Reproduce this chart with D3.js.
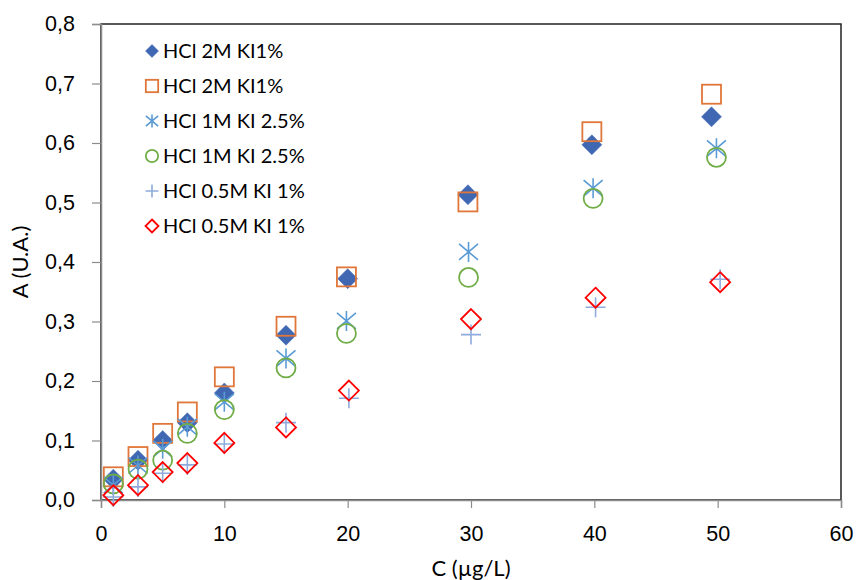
<!DOCTYPE html>
<html>
<head>
<meta charset="utf-8">
<script src="https://cdn.jsdelivr.net/npm/d3@7"></script>
<style>
  body { margin: 0; background: #fff; }
  svg { font-family: Lato, "Liberation Sans", sans-serif; }
</style>
</head>
<body>
<div id="chart"></div>
<script>
// Absorbance vs concentration, six acid / KI conditions
const seriesNames = ["HCl 2M KI1%", "HCl 2M KI1%", "HCl 1M KI 2.5%", "HCl 1M KI 2.5%", "HCl 0.5M KI 1%", "HCl 0.5M KI 1%"];
const xDiamond = [1, 3, 5, 7, 10, 15, 20, 29.75, 39.8, 49.5];
const yDiamond = [0.035, 0.067, 0.100, 0.130, 0.180, 0.277, 0.372, 0.513, 0.597, 0.644];
const xSquare = [1, 3, 5, 7, 10, 15, 19.9, 29.75, 39.8, 49.5];
const ySquare = [0.039, 0.073, 0.112, 0.148, 0.207, 0.292, 0.375, 0.501, 0.619, 0.682];
const xStar = [1, 3, 5, 7, 10, 15, 19.9, 29.8, 39.9, 49.9];
const yStar = [0.025, 0.058, 0.086, 0.123, 0.165, 0.238, 0.301, 0.417, 0.524, 0.591];
const xCircle = [1, 3, 5, 7, 10, 15, 19.9, 29.8, 39.9, 49.9];
const yCircle = [0.027, 0.052, 0.067, 0.112, 0.152, 0.222, 0.280, 0.374, 0.507, 0.576];
const xPlus = [1, 3, 5, 7, 10, 15, 20.1, 30, 40.1, 50.2];
const yPlus = [0.005, 0.022, 0.045, 0.059, 0.094, 0.130, 0.171, 0.278, 0.324, 0.371];
const xRed = [1, 3, 5, 7, 10, 15, 20.1, 30, 40.1, 50.2];
const yRed = [0.008, 0.025, 0.047, 0.062, 0.096, 0.122, 0.184, 0.304, 0.340, 0.366];
const xTicks = [0, 10, 20, 30, 40, 50, 60];
const yTicks = [0, 0.1, 0.2, 0.3, 0.4, 0.5, 0.6, 0.7, 0.8];

const width = 857, height = 580;
const margin = { top: 24, right: 16, bottom: 80, left: 101 };

const series = [
  { name: seriesNames[0], xs: xDiamond, ys: yDiamond, type: "diamondFill", color: "#4068b2" },
  { name: seriesNames[1], xs: xSquare, ys: ySquare, type: "square", color: "#e0773a" },
  { name: seriesNames[2], xs: xStar, ys: yStar, type: "star", color: "#5b9bd5" },
  { name: seriesNames[3], xs: xCircle, ys: yCircle, type: "circle", color: "#70ad47" },
  { name: seriesNames[4], xs: xPlus, ys: yPlus, type: "plus", color: "#8faadc" },
  { name: seriesNames[5], xs: xRed, ys: yRed, type: "diamond", color: "#ff0000" }
];

const svg = d3.select("#chart").append("svg")
  .attr("width", width)
  .attr("height", height);

const innerW = width - margin.left - margin.right;
const innerH = height - margin.top - margin.bottom;

const x = d3.scaleLinear().domain([0, 60]).range([0, innerW]);
const y = d3.scaleLinear().domain([0, 0.8]).range([innerH, 0]);

const g = svg.append("g").attr("transform", `translate(${margin.left},${margin.top})`);

// plot frame
g.append("rect")
  .attr("width", innerW).attr("height", innerH)
  .attr("fill", "none").attr("stroke", "#222").attr("stroke-width", 1.5);

const xAxis = g.append("g")
  .attr("transform", `translate(0,${innerH})`)
  .call(d3.axisBottom(x).tickValues(xTicks).tickSize(8).tickPadding(18).tickFormat(d3.format("d")));
const yAxis = g.append("g")
  .call(d3.axisLeft(y).tickValues(yTicks).tickSize(9).tickPadding(17)
    .tickFormat(d => d3.format(".1f")(d).replace(".", ",")));

[xAxis, yAxis].forEach(a => {
  a.select(".domain").attr("stroke", "#8c8c8c").attr("stroke-width", 1.5);
  a.selectAll(".tick line").attr("stroke", "#8c8c8c").attr("stroke-width", 1.2);
  a.selectAll(".tick text").attr("fill", "#000").style("font-size", "21.5px");
});

svg.append("text")
  .attr("x", margin.left + innerW / 2).attr("y", 576)
  .attr("text-anchor", "middle").style("font-size", "22px")
  .text("C (µg/L)");

svg.append("text")
  .attr("transform", `translate(28,${margin.top + innerH / 2}) rotate(-90)`)
  .attr("text-anchor", "middle").style("font-size", "22px")
  .text("A (U.A.)");

function drawMarker(sel, type, color, s) {
  const h = s / 2;
  if (type === "diamondFill" || type === "diamond") {
    sel.append("path")
      .attr("d", `M0,${-h}L${h},0L0,${h}L${-h},0Z`)
      .attr("fill", type === "diamondFill" ? color : "none")
      .attr("stroke", color).attr("stroke-width", type === "diamondFill" ? 0.5 : 1.8);
  } else if (type === "square") {
    const q = h * 0.95;
    sel.append("rect").attr("x", -q).attr("y", -q).attr("width", 2 * q).attr("height", 2 * q)
      .attr("fill", "none").attr("stroke", color).attr("stroke-width", 1.8);
  } else if (type === "circle") {
    sel.append("circle").attr("r", h * 0.95)
      .attr("fill", "none").attr("stroke", color).attr("stroke-width", 1.8);
  } else if (type === "plus") {
    sel.append("path").attr("d", `M${-h},0H${h}M0,${-h}V${h}`)
      .attr("stroke", color).attr("stroke-width", 1.6);
  } else if (type === "star") {
    // vertical bar crossed by an X
    const d = h * 0.95, e = h * 0.8;
    sel.append("path").attr("d", `M0,${-h}V${h}M${-d},${-e}L${d},${e}M${-d},${e}L${d},${-e}`)
      .attr("stroke", color).attr("stroke-width", 1.6);
  }
}

series.forEach(s => {
  const pts = s.xs.map((v, i) => ({ x: v, y: s.ys[i] }));
  g.append("g").selectAll("g")
    .data(pts).enter().append("g")
    .attr("transform", d => `translate(${x(d.x)},${y(d.y)})`)
    .each(function() { drawMarker(d3.select(this), s.type, s.color, 20); });
});

// legend
const legend = svg.append("g").attr("transform", "translate(152,51)");
series.forEach((s, i) => {
  const row = legend.append("g").attr("transform", `translate(0,${i * 35})`);
  drawMarker(row, s.type, s.color, 13);
  row.append("text").attr("x", 11).attr("y", 7)
    .style("font-size", "20px").text(s.name);
});
</script>
</body>
</html>
